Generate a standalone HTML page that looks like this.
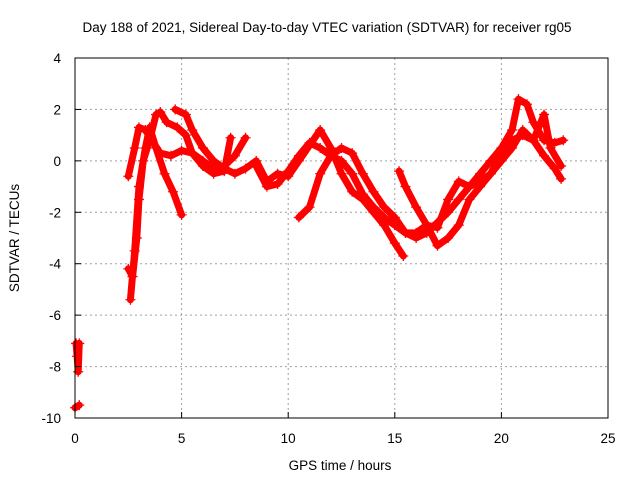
<!DOCTYPE html>
<html><head><meta charset="utf-8"><style>
html,body{margin:0;padding:0;background:#fff}
svg{display:block;font-family:"Liberation Sans",sans-serif}
</style></head><body>
<svg id="chart" width="640" height="480">
<rect x="0" y="0" width="640" height="480" fill="#fff"/>
<text x="327" y="32" font-size="13.5" text-anchor="middle">Day 188 of 2021, Sidereal Day-to-day VTEC variation (SDTVAR) for receiver rg05</text>
<text x="0" y="0" font-size="13.5" text-anchor="middle" transform="translate(19,238) rotate(-90)">SDTVAR / TECUs</text>
<text x="340" y="470" font-size="13.5" text-anchor="middle">GPS time / hours</text>
<g id="grid"></g>
<g id="series"></g>
<rect x="75" y="58" width="533" height="360" fill="none" stroke="#000" stroke-width="1"/>
<g id="ticks"></g>
</svg>
<script>
const xTicks=[0,5,10,15,20,25];
const yTicks=[4,2,0,-2,-4,-6,-8,-10];
const trackA=[[2.5,-4.2],[2.7,-4.5],[2.9,-3],[3.0,-1.5],[3.2,0],[3.5,0.8],[3.8,1.8],[4.0,1.9],[4.3,1.5],[4.8,1.3],[5.2,1.0],[5.5,0.3],[6,0],[6.5,-0.3],[7,-0.2],[7.5,0.2],[8,0.9]];
const trackB=[[2.6,-5.4],[2.8,-3.5],[3.0,-1],[3.3,0.5],[3.5,1.3],[3.8,0.5],[4.2,-0.5],[4.6,-1.2],[5.0,-2.1]];
const trackC=[[2.5,-0.6],[2.8,0.5],[3.0,1.3],[3.3,1.2],[3.6,0.8],[4,0.3],[4.5,0.2],[5,0.4],[5.5,0.3],[6,-0.2],[6.5,-0.5],[7,-0.4],[7.3,0.9]];
const trackD=[[4.7,2.0],[5.2,1.8],[5.5,1.2],[6,0.5],[6.5,0],[7,-0.3],[7.5,-0.5],[8,-0.3],[8.5,0],[9,-0.8],[9.5,-0.5],[10,-0.6],[10.5,0],[11,0.6],[11.5,1.2],[12,0.5],[12.5,-0.5],[13,-1.2],[13.5,-1.5],[14,-2],[14.5,-2.5],[15,-3.2],[15.4,-3.7]];
const trackE=[[8.5,-0.2],[9,-1],[9.5,-0.9],[10,-0.4],[10.5,0.2],[11,0.7],[11.5,0.5],[12,0.2],[12.5,0],[13,-0.5],[13.5,-1.3],[14,-1.8],[14.5,-2.2],[15,-2.5],[15.5,-2.8],[16,-3],[16.5,-2.8],[17,-2.4],[17.5,-2.0],[18,-1.5],[18.5,-1],[19,-0.8],[19.5,-0.5],[20,0],[20.5,0.5],[21,1.2],[21.5,0.8],[22,0.2],[22.5,-0.3],[22.8,-0.7]];
const trackF=[[10.5,-2.2],[11,-1.8],[11.5,-0.5],[12,0.2],[12.5,0.5],[13,0.3],[13.5,-0.5],[14,-1.2],[14.5,-1.8],[15,-2.2],[15.5,-2.8],[16,-2.8],[16.5,-2.5],[17,-2.6],[17.5,-1.5],[18,-0.8],[18.5,-1.0],[19,-0.5],[19.5,0],[20,0.5],[20.5,1.2],[20.8,2.4],[21.2,2.2],[21.5,1.5],[22,0.8],[22.5,0.7],[22.9,0.8]];
const trackG=[[15.2,-0.4],[15.5,-1],[16,-1.8],[16.5,-2.5],[17,-3.3],[17.5,-3],[18,-2.5],[18.5,-1.5],[19,-1],[19.5,-0.5],[20,0.3],[20.5,0.8],[21,1.0],[21.5,0.8],[22,1.8],[22.3,0.5],[22.8,-0.2]];
const trackH=[[0.05,-7.1],[0.1,-7.6],[0.15,-8.2],[0.2,-7.1]];
const trackI=[[0.0,-9.6],[0.2,-9.5]];
const tracks=[trackA,trackB,trackC,trackD,trackE,trackF,trackG,trackH,trackI];
const NS='http://www.w3.org/2000/svg';
const X=v=>75+v*(533/25);
const Y=v=>58+(4-v)*(360/14);
function mk(t,a){const e=document.createElementNS(NS,t);for(const k in a)e.setAttribute(k,a[k]);return e;}
const grid=document.getElementById('grid'),ticks=document.getElementById('ticks'),ser=document.getElementById('series');
xTicks.forEach(v=>{
 if(v>0&&v<25){const g=mk('line',{x1:X(v),x2:X(v),y1:58,y2:418,stroke:'#a0a0a0','stroke-dasharray':'2,3'});
 
 grid.appendChild(g);}
 const t=mk('line',{x1:X(v),x2:X(v),y1:418,y2:412,stroke:'#000'});
 
 ticks.appendChild(t);
 const l=mk('text',{x:X(v),y:443,'font-size':'13.5','text-anchor':'middle'});l.textContent=v;
 
 ticks.appendChild(l);
});
yTicks.forEach(v=>{
 if(v<4&&v>-10){const g=mk('line',{x1:75,x2:608,y1:Y(v),y2:Y(v),stroke:'#a0a0a0','stroke-dasharray':'2,3'});
 
 grid.appendChild(g);}
 const t=mk('line',{x1:75,x2:81,y1:Y(v),y2:Y(v),stroke:'#000'});
 
 ticks.appendChild(t);
 const l=mk('text',{x:61,y:Y(v)+5,'font-size':'13.5','text-anchor':'end'});l.textContent=v;
 
 ticks.appendChild(l);
});
tracks.forEach(tr=>{
 const p=mk('polyline',{points:tr.map(d=>X(d[0])+','+Y(d[1])).join(' '),fill:'none',stroke:'#ff0000','stroke-width':'7','stroke-linejoin':'round','stroke-linecap':'round'});
 
 ser.appendChild(p);
 tr.forEach(d=>{
  const x=X(d[0]),y=Y(d[1]);
  const m=mk('path',{d:`M${x-5},${y}H${x+5}M${x},${y-5}V${y+5}`,stroke:'#ff0000','stroke-width':'1.3'});
  
  ser.appendChild(m);
 });
});
</script>
</body></html>
